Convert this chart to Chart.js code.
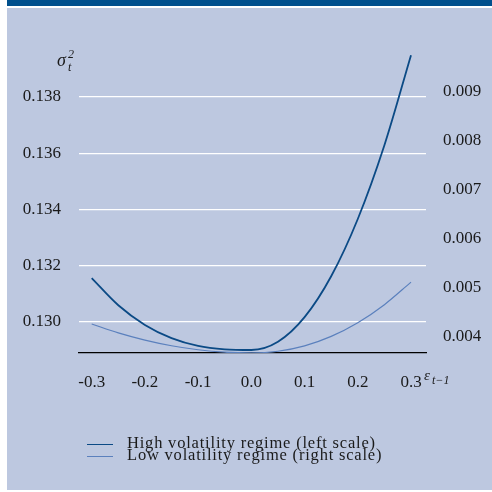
<!DOCTYPE html>
<html>
<head>
<meta charset="utf-8">
<script src="https://cdn.jsdelivr.net/npm/chart.js@4"></script>
<style>
  html, body { margin: 0; padding: 0; background: #fff; }
  #page { position: relative; width: 492px; height: 492px; overflow: hidden; }
  #bar { position: absolute; left: 7px; top: 0; width: 485px; height: 6px; background: #00508d; }
  #panel { position: absolute; left: 7px; top: 8px; width: 485px; height: 482px; background: #bdc8e0; }
  #chart { position: absolute; left: 0; top: 0; }
  .lbl { position: absolute; font-family: "Liberation Serif", serif; color: #1a1a1a; white-space: nowrap; }
  .it { font-style: italic; }
  #legend { position: absolute; left: 87px; top: 437px; font-family: "Liberation Serif", serif; font-size: 16.5px; letter-spacing: 0.8px; line-height: 12px; color: #1a1a1a; }
  #legend .row { display: flex; align-items: center; height: 12px; }
  #legend .swatch { width: 26px; margin-right: 14px; margin-top: 3px; }
</style>
</head>
<body>
<div id="page">
  <div id="bar"></div>
  <div id="panel"></div>
  <canvas id="chart" width="492" height="492"></canvas>
  <div class="lbl" style="left:57px; top:50px; font-size:18px;"><span class="it">σ</span></div>
  <div class="lbl it" style="left:68px; top:47px; font-size:12px;">2</div>
  <div class="lbl it" style="left:68px; top:60px; font-size:12px;">t</div>
  <div class="lbl it" style="left:424px; top:367px; font-size:15px;">ε</div>
  <div class="lbl it" style="left:432px; top:373px; font-size:12px;">t−1</div>
  <div id="legend"></div>
</div>
<script>
// Lagged shock on the x axis
const shocks = [-0.3, -0.25, -0.2, -0.15, -0.1, -0.05, 0, 0.05, 0.1, 0.15, 0.2, 0.25, 0.3];
// Conditional variance, high volatility regime (left scale)
const highVar = [0.131563, 0.130597, 0.129897, 0.129428, 0.129151, 0.129030, 0.129005,
                 0.129297, 0.130171, 0.131625, 0.133662, 0.136284, 0.139485];
// Conditional variance, low volatility regime (right scale)
const lowVar = [0.004264, 0.004084, 0.003937, 0.003822, 0.003740, 0.003691, 0.003675,
                0.003709, 0.003819, 0.004012, 0.004291, 0.004659, 0.005118];

const seriesNames = ['High volatility regime (left scale)', 'Low volatility regime (right scale)'];
const seriesColors = ['#0b4a85', '#5b80bd'];

const xTicks = [-0.3, -0.2, -0.1, 0.0, 0.1, 0.2, 0.3];
const leftTicks = [0.130, 0.132, 0.134, 0.136, 0.138];
const rightTicks = [0.004, 0.005, 0.006, 0.007, 0.008, 0.009];

const tickFont = { family: 'Liberation Serif', size: 17 };
const tickColor = '#1a1a1a';

new Chart(document.getElementById('chart'), {
  type: 'line',
  data: {
    datasets: [
      {
        label: seriesNames[0],
        data: shocks.map((x, i) => ({ x: x, y: highVar[i] })),
        borderColor: seriesColors[0],
        borderWidth: 1.8,
        pointRadius: 0,
        cubicInterpolationMode: 'monotone',
        yAxisID: 'yLeft'
      },
      {
        label: seriesNames[1],
        data: shocks.map((x, i) => ({ x: x, y: lowVar[i] })),
        borderColor: seriesColors[1],
        borderWidth: 1.2,
        pointRadius: 0,
        cubicInterpolationMode: 'monotone',
        yAxisID: 'yRight'
      }
    ]
  },
  options: {
    responsive: false,
    animation: false,
    devicePixelRatio: 1,
    layout: { padding: { left: 0, top: 45, right: 0, bottom: 0 } },
    plugins: { legend: { display: false }, tooltip: { enabled: false } },
    scales: {
      x: {
        type: 'linear',
        min: -0.32386,
        max: 0.32818,
        afterBuildTicks: s => { s.ticks = xTicks.map(v => ({ value: v })); },
        afterFit: s => { s.height = 139; },
        grid: { display: false, drawTicks: false },
        border: { display: true, color: '#000', width: 1.2 },
        ticks: { font: tickFont, color: tickColor, padding: 19, maxRotation: 0,
                 callback: v => v.toFixed(1) }
      },
      yLeft: {
        type: 'linear',
        position: 'left',
        min: 0.1288978,
        max: 0.1398489,
        afterBuildTicks: s => { s.ticks = leftTicks.map(v => ({ value: v })); },
        afterFit: s => { s.width = 79; },
        grid: { color: '#ffffff', lineWidth: 1.2, drawTicks: false },
        border: { display: false },
        ticks: { font: tickFont, color: tickColor, padding: 18,
                 callback: v => v.toFixed(3) }
      },
      yRight: {
        type: 'linear',
        position: 'right',
        min: 0.0036739,
        max: 0.0099519,
        afterBuildTicks: s => { s.ticks = rightTicks.map(v => ({ value: v })); },
        afterFit: s => { s.width = 66; },
        grid: { display: false, drawTicks: false },
        border: { display: false },
        ticks: { font: tickFont, color: tickColor, padding: 17,
                 callback: v => v.toFixed(3) }
      }
    }
  }
});

// legend rows
const legend = document.getElementById('legend');
seriesNames.forEach((name, i) => {
  const row = document.createElement('div');
  row.className = 'row';
  const sw = document.createElement('div');
  sw.className = 'swatch';
  sw.style.borderTop = (i === 0 ? 1.8 : 1.2) + 'px solid ' + seriesColors[i];
  const txt = document.createElement('span');
  txt.textContent = name;
  row.appendChild(sw);
  row.appendChild(txt);
  legend.appendChild(row);
});
</script>
</body>
</html>
